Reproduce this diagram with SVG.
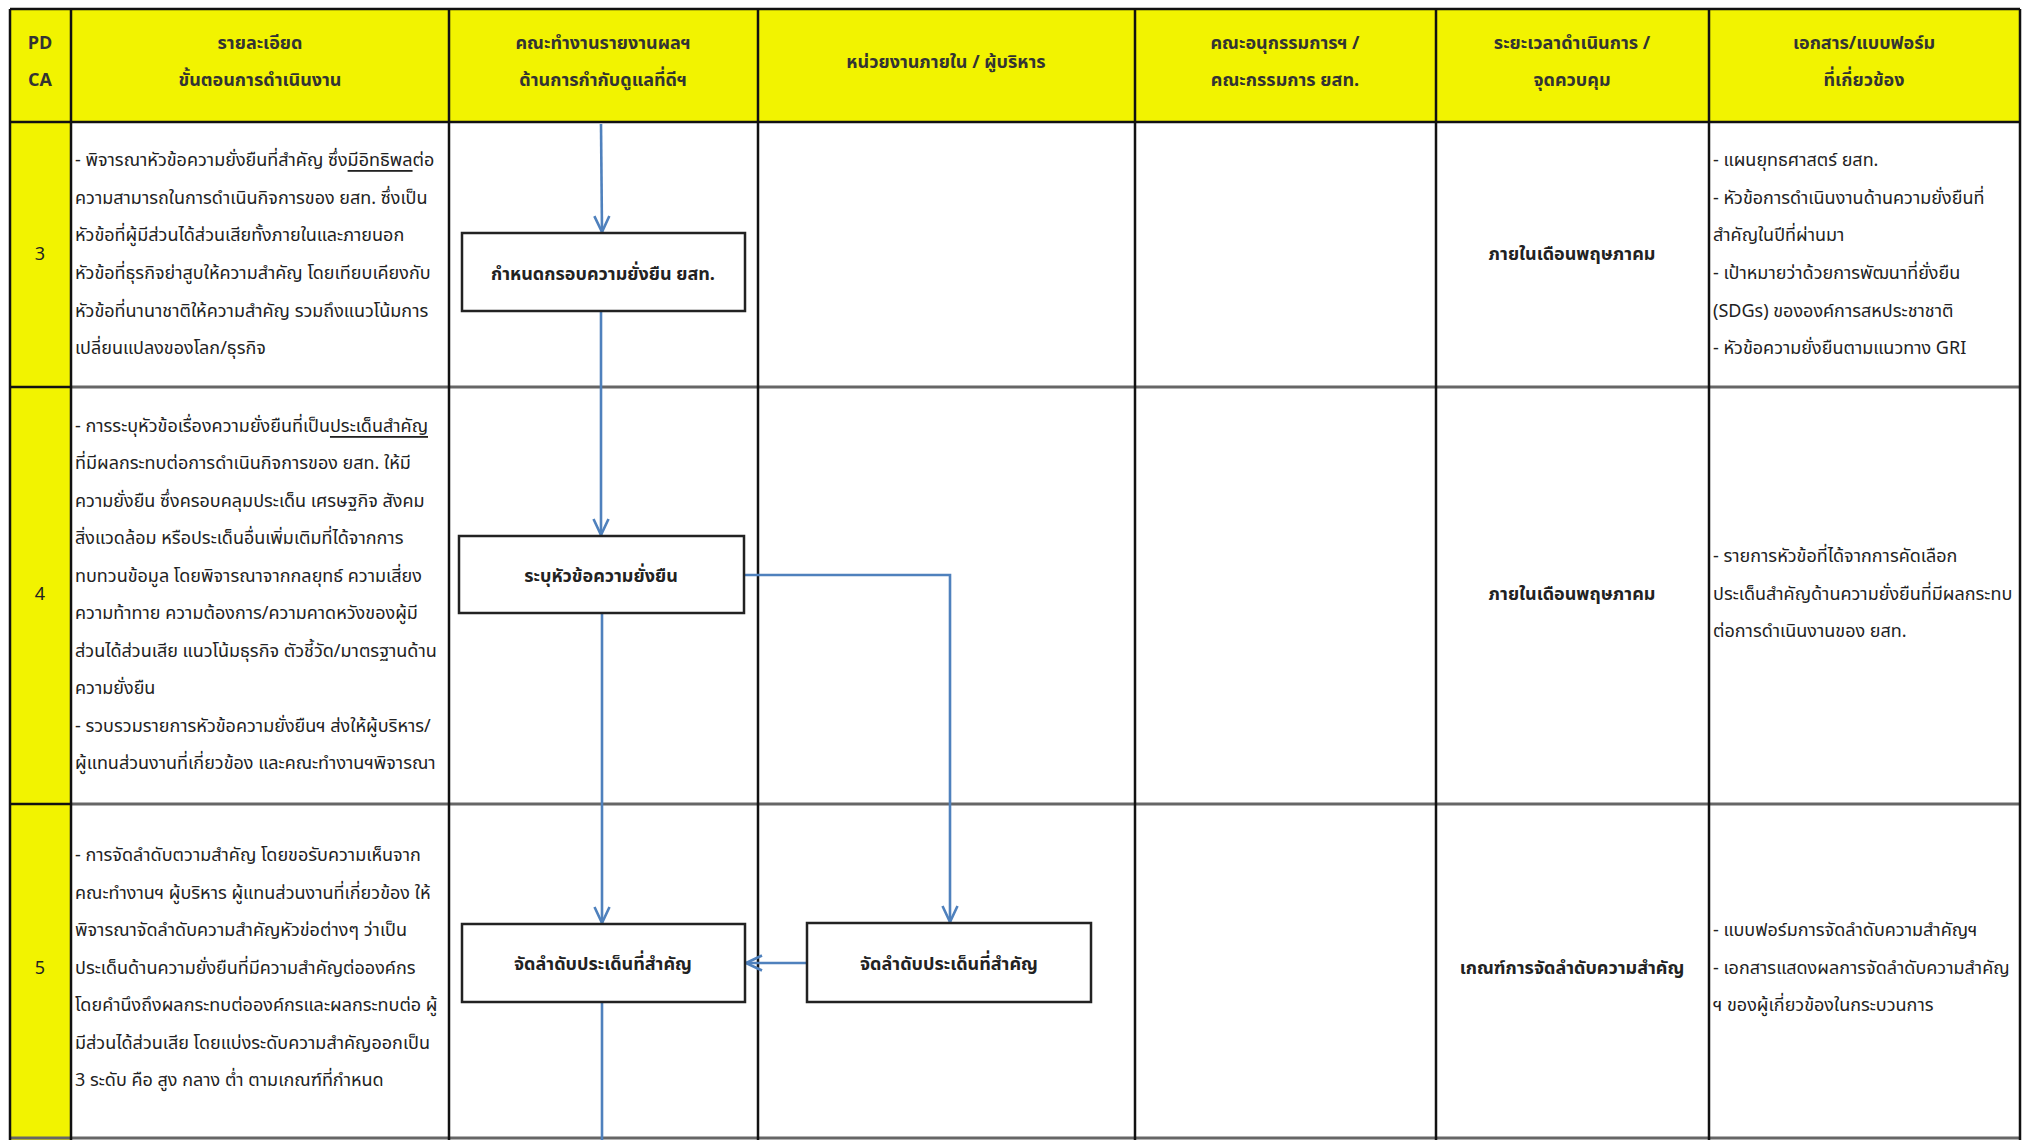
<svg xmlns="http://www.w3.org/2000/svg" width="2029" height="1140" viewBox="0 0 2029 1140">
<defs>
<style>
.t{font-family:"Noto Sans Thai","Tahoma","Noto Sans","DejaVu Sans",sans-serif;font-size:18px;fill:#222;dominant-baseline:central}
.h{font-weight:bold;text-anchor:middle;fill:#333}
.c{text-anchor:middle}
.b{font-weight:bold}
.u{text-decoration:underline}
.box{fill:#fff;stroke:#222;stroke-width:2.5}
.con{fill:none;stroke:#4f81bd;stroke-width:2.6}
.grid{stroke:#111;stroke-width:2.5}
.rowl{stroke:#666;stroke-width:3}
</style>
<marker id="ah" viewBox="0 0 18 18" refX="17" refY="9" markerWidth="18" markerHeight="18" markerUnits="userSpaceOnUse" orient="auto">
<path d="M1,1.5 L17,9 L1,16.5" fill="none" stroke="#4f81bd" stroke-width="2.6"/>
</marker>
</defs>
<rect width="2029" height="1140" fill="#fff"/>
<g id="header">
<rect x="10" y="9" width="2010" height="113" fill="#f2f300"/>
<rect x="10" y="122" width="61" height="1018" fill="#f2f300"/>
<text class="t h" x="40" y="43">PD</text>
<text class="t h" x="40" y="80">CA</text>
<text class="t h" x="260" y="43">รายละเอียด</text>
<text class="t h" x="260" y="80">ขั้นตอนการดำเนินงาน</text>
<text class="t h" x="603" y="43">คณะทำงานรายงานผลฯ</text>
<text class="t h" x="603" y="80">ด้านการกำกับดูแลที่ดีฯ</text>
<text class="t h" x="946" y="62">หน่วยงานภายใน / ผู้บริหาร</text>
<text class="t h" x="1285" y="43">คณะอนุกรรมการฯ /</text>
<text class="t h" x="1285" y="80">คณะกรรมการ ยสท.</text>
<text class="t h" x="1572" y="43">ระยะเวลาดำเนินการ /</text>
<text class="t h" x="1572" y="80">จุดควบคุม</text>
<text class="t h" x="1864" y="43">เอกสาร/แบบฟอร์ม</text>
<text class="t h" x="1864" y="80">ที่เกี่ยวข้อง</text>
</g>
<g id="grid">
<line class="rowl" x1="71" y1="387" x2="2020" y2="387"/>
<line class="rowl" x1="71" y1="804" x2="2020" y2="804"/>
<line class="rowl" x1="10" y1="1138" x2="2020" y2="1138"/>
<line class="grid" x1="10" y1="9" x2="2020" y2="9" stroke-width="3"/>
<line class="grid" x1="10" y1="122" x2="2020" y2="122" stroke-width="3.5"/>
<line class="grid" x1="10" y1="387" x2="71" y2="387"/>
<line class="grid" x1="10" y1="804" x2="71" y2="804"/>
<line class="grid" x1="10" y1="9" x2="10" y2="1140"/>
<line class="grid" x1="71" y1="9" x2="71" y2="1140"/>
<line class="grid" x1="449" y1="9" x2="449" y2="1140"/>
<line class="grid" x1="758" y1="9" x2="758" y2="1140"/>
<line class="grid" x1="1135" y1="9" x2="1135" y2="1140"/>
<line class="grid" x1="1436" y1="9" x2="1436" y2="1140"/>
<line class="grid" x1="1709" y1="9" x2="1709" y2="1140"/>
<line class="grid" x1="2020" y1="9" x2="2020" y2="1140"/>
</g>
<g id="row3">
<text class="t c" x="40" y="254">3</text>
<text class="t" x="75" y="160">- พิจารณาหัวข้อความยั่งยืนที่สำคัญ ซึ่ง<tspan class="u">มีอิทธิพล</tspan>ต่อ</text>
<text class="t" x="75" y="198">ความสามารถในการดำเนินกิจการของ ยสท. ซึ่งเป็น</text>
<text class="t" x="75" y="235">หัวข้อที่ผู้มีส่วนได้ส่วนเสียทั้งภายในและภายนอก</text>
<text class="t" x="75" y="273">หัวข้อที่ธุรกิจย่าสูบให้ความสำคัญ โดยเทียบเคียงกับ</text>
<text class="t" x="75" y="311">หัวข้อที่นานาชาติให้ความสำคัญ รวมถึงแนวโน้มการ</text>
<text class="t" x="75" y="348">เปลี่ยนแปลงของโลก/ธุรกิจ</text>
<text class="t c b" x="1572" y="254">ภายในเดือนพฤษภาคม</text>
<text class="t" x="1713" y="160">- แผนยุทธศาสตร์ ยสท.</text>
<text class="t" x="1713" y="198">- หัวข้อการดำเนินงานด้านความยั่งยืนที่</text>
<text class="t" x="1713" y="235">สำคัญในปีที่ผ่านมา</text>
<text class="t" x="1713" y="273">- เป้าหมายว่าด้วยการพัฒนาที่ยั่งยืน</text>
<text class="t" x="1713" y="311">(SDGs) ขององค์การสหประชาชาติ</text>
<text class="t" x="1713" y="348">- หัวข้อความยั่งยืนตามแนวทาง GRI</text>
</g>
<g id="row4">
<text class="t c" x="40" y="594">4</text>
<text class="t" x="75" y="426">- การระบุหัวข้อเรื่องความยั่งยืนที่เป็น<tspan class="u">ประเด็นสำคัญ</tspan></text>
<text class="t" x="75" y="463">ที่มีผลกระทบต่อการดำเนินกิจการของ ยสท. ให้มี</text>
<text class="t" x="75" y="501">ความยั่งยืน ซึ่งครอบคลุมประเด็น เศรษฐกิจ สังคม</text>
<text class="t" x="75" y="538">สิ่งแวดล้อม หรือประเด็นอื่นเพิ่มเติมที่ได้จากการ</text>
<text class="t" x="75" y="576">ทบทวนข้อมูล โดยพิจารณาจากกลยุทธ์ ความเสี่ยง</text>
<text class="t" x="75" y="613">ความท้าทาย ความต้องการ/ความคาดหวังของผู้มี</text>
<text class="t" x="75" y="651">ส่วนได้ส่วนเสีย แนวโน้มธุรกิจ ตัวชี้วัด/มาตรฐานด้าน</text>
<text class="t" x="75" y="688">ความยั่งยืน</text>
<text class="t" x="75" y="726">- รวบรวมรายการหัวข้อความยั่งยืนฯ ส่งให้ผู้บริหาร/</text>
<text class="t" x="75" y="763">ผู้แทนส่วนงานที่เกี่ยวข้อง และคณะทำงานฯพิจารณา</text>
<text class="t c b" x="1572" y="594">ภายในเดือนพฤษภาคม</text>
<text class="t" x="1713" y="556">- รายการหัวข้อที่ได้จากการคัดเลือก</text>
<text class="t" x="1713" y="594">ประเด็นสำคัญด้านความยั่งยืนที่มีผลกระทบ</text>
<text class="t" x="1713" y="631">ต่อการดำเนินงานของ ยสท.</text>
</g>
<g id="row5">
<text class="t c" x="40" y="968">5</text>
<text class="t" x="75" y="855">- การจัดลำดับตวามสำคัญ โดยขอรับความเห็นจาก</text>
<text class="t" x="75" y="893">คณะทำงานฯ ผู้บริหาร ผู้แทนส่วนงานที่เกี่ยวข้อง ให้</text>
<text class="t" x="75" y="930">พิจารณาจัดลำดับความสำคัญหัวข่อต่างๆ ว่าเป็น</text>
<text class="t" x="75" y="968">ประเด็นด้านความยั่งยืนที่มีความสำคัญต่อองค์กร</text>
<text class="t" x="75" y="1005">โดยคำนึงถึงผลกระทบต่อองค์กรและผลกระทบต่อ ผู้</text>
<text class="t" x="75" y="1043">มีส่วนได้ส่วนเสีย โดยแบ่งระดับความสำคัญออกเป็น</text>
<text class="t" x="75" y="1080">3 ระดับ คือ สูง กลาง ต่ำ ตามเกณฑ์ที่กำหนด</text>
<text class="t c b" x="1572" y="968">เกณฑ์การจัดลำดับความสำคัญ</text>
<text class="t" x="1713" y="930">- แบบฟอร์มการจัดลำดับความสำคัญฯ</text>
<text class="t" x="1713" y="968">- เอกสารแสดงผลการจัดลำดับความสำคัญ</text>
<text class="t" x="1713" y="1005">ฯ ของผู้เกี่ยวข้องในกระบวนการ</text>
</g>
<g id="connectors">
<path class="con" d="M601,124 L602,232" marker-end="url(#ah)"/>
<path class="con" d="M601,311 L601,535" marker-end="url(#ah)"/>
<path class="con" d="M744,575 L950,575 L950,922" marker-end="url(#ah)"/>
<path class="con" d="M602,613 L602,923" marker-end="url(#ah)"/>
<path class="con" d="M807,963 L746,963" marker-end="url(#ah)"/>
<path class="con" d="M602,1002 L602,1140"/>
</g>
<g id="node-define">
<rect class="box" x="462" y="233" width="283" height="78"/>
<text class="t c b" x="603" y="274">กำหนดกรอบความยั่งยืน ยสท.</text>
</g>
<g id="node-identify">
<rect class="box" x="459" y="536" width="285" height="77"/>
<text class="t c b" x="601" y="576">ระบุหัวข้อความยั่งยืน</text>
</g>
<g id="node-prioritize-wg">
<rect class="box" x="462" y="924" width="283" height="78"/>
<text class="t c b" x="603" y="964">จัดลำดับประเด็นที่สำคัญ</text>
</g>
<g id="node-prioritize-mgmt">
<rect class="box" x="807" y="923" width="284" height="79"/>
<text class="t c b" x="949" y="964">จัดลำดับประเด็นที่สำคัญ</text>
</g>
</svg>
